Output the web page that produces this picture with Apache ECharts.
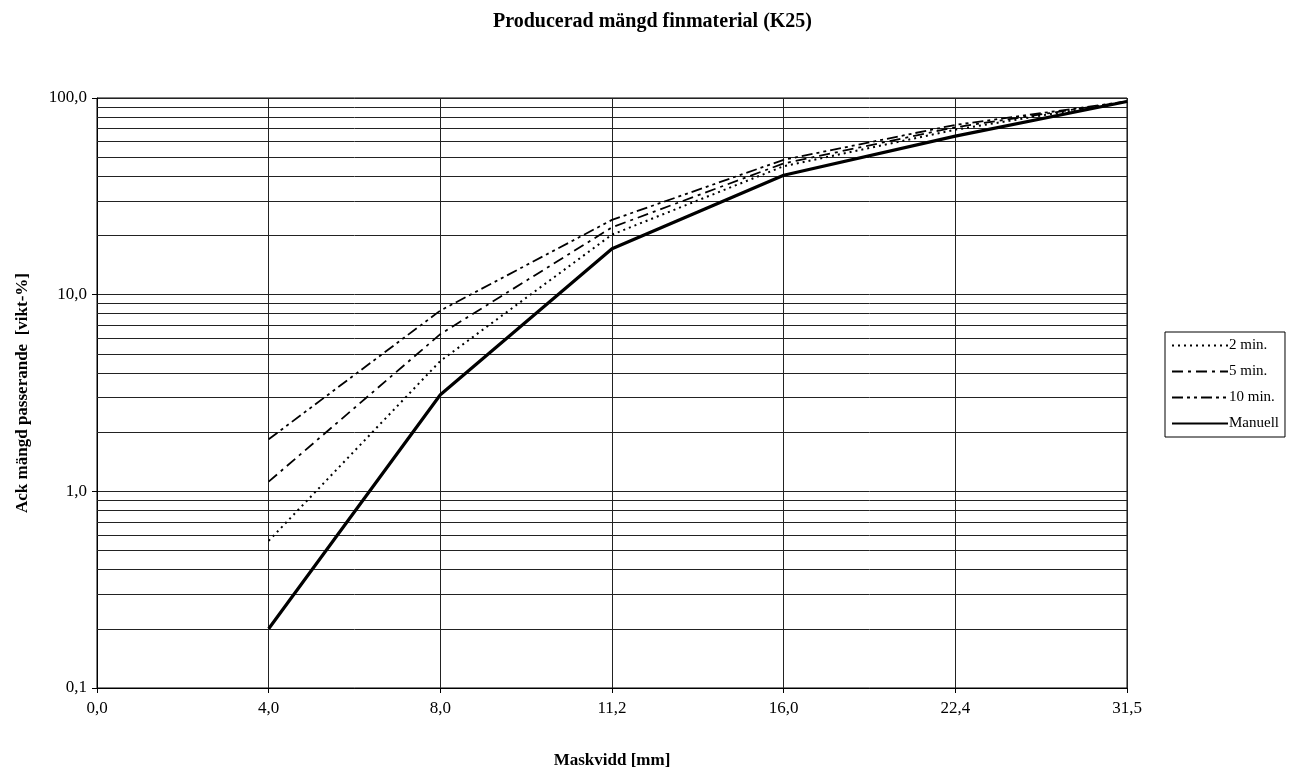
<!DOCTYPE html>
<html>
<head>
<meta charset="utf-8">
<script src="https://cdn.jsdelivr.net/npm/echarts@6/dist/echarts.min.js"></script>
<style>html,body{margin:0;padding:0;background:#fff}#c{width:1305px;height:774px}</style>
</head>
<body>
<div id="c"></div>
<script>
var categories = ['0,0', '4,0', '8,0', '11,2', '16,0', '22,4', '31,5'];
var min2 = [null, 0.56, 4.6, 20.2, 45, 69, 96];
var min5 = [null, 1.12, 6.3, 22, 46.5, 71, 96];
var min10 = [null, 1.84, 8.3, 24, 48.5, 73, 96];
var manuell = [null, 0.2, 3.1, 17.1, 40.5, 64, 96];
var minorGrid = [0.2, 0.3, 0.4, 0.5, 0.6, 0.7, 0.8, 0.9, 2, 3, 4, 5, 6, 7, 8, 9, 20, 30, 40, 50, 60, 70, 80, 90];
var legendNames = ['2 min.', '5 min.', '10 min.', 'Manuell'];

var serif = 'Liberation Serif';
var chart = echarts.init(document.getElementById('c'));
function lineSeries(name, data, type, width) {
  return {
    name: name, type: 'line', data: data, symbol: 'none', connectNulls: false,
    lineStyle: {color: '#000', width: width, type: type},
    itemStyle: {color: '#000'}, z: 5, animation: false
  };
}
chart.setOption({
  animation: false,
  backgroundColor: '#fff',
  title: {
    text: 'Producerad mängd finmaterial (K25)', left: 'center', top: 7,
    textStyle: {fontFamily: serif, fontWeight: 'bold', fontSize: 20, color: '#000'}
  },
  legend: {
    data: legendNames, orient: 'vertical', left: 1165, top: 332,
    itemWidth: 56, itemHeight: 14, itemGap: 11, padding: [6, 6, 6, 6],
    borderColor: '#000', borderWidth: 1, backgroundColor: '#fff',
    itemStyle: {color: 'rgba(0,0,0,0)', borderWidth: 0, opacity: 0},
    textStyle: {fontFamily: serif, fontSize: 15, color: '#000', padding: [0, 0, 0, -4]}
  },
  grid: {left: 97, right: 178, top: 98, bottom: 86, show: true, borderColor: '#000', borderWidth: 1},
  xAxis: {
    type: 'category', data: categories, boundaryGap: false,
    name: 'Maskvidd [mm]', nameLocation: 'middle', nameGap: 64,
    nameTextStyle: {fontFamily: serif, fontWeight: 'bold', fontSize: 17, color: '#000'},
    axisLine: {lineStyle: {color: '#000', width: 1}},
    axisTick: {show: true, alignWithLabel: true, length: 5, lineStyle: {color: '#000'}},
    axisLabel: {fontFamily: serif, fontSize: 17, color: '#000', margin: 12},
    splitLine: {show: true, lineStyle: {color: '#222', width: 1}}
  },
  yAxis: {
    type: 'log', logBase: 10, min: 0.1, max: 100,
    name: 'Ack mängd passerande  [vikt-%]', nameLocation: 'middle', nameGap: 66,
    nameTextStyle: {fontFamily: serif, fontWeight: 'bold', fontSize: 17, color: '#000'},
    axisLine: {show: true, lineStyle: {color: '#000', width: 1}},
    axisTick: {show: true, length: 5, lineStyle: {color: '#000'}},
    axisLabel: {
      fontFamily: serif, fontSize: 17, color: '#000', margin: 10,
      formatter: function (v) { return v.toFixed(1).replace('.', ','); }
    },
    splitLine: {show: true, lineStyle: {color: '#222', width: 1}}
  },
  series: [
    lineSeries('2 min.', min2, [2, 4], 2),
    lineSeries('5 min.', min5, [11, 5, 3, 5], 1.8),
    lineSeries('10 min.', min10, [11, 4, 3, 4, 3, 4], 1.8),
    lineSeries('Manuell', manuell, 'solid', 3.2),
    {
      name: 'grid', type: 'line', data: [], symbol: 'none', silent: true, z: 1,
      markLine: {
        silent: true, symbol: ['none', 'none'], animation: false,
        label: {show: false},
        lineStyle: {color: '#222', width: 1, type: 'solid'},
        data: minorGrid.map(function (v) { return {yAxis: v}; })
      }
    }
  ]
});
</script>
</body>
</html>
